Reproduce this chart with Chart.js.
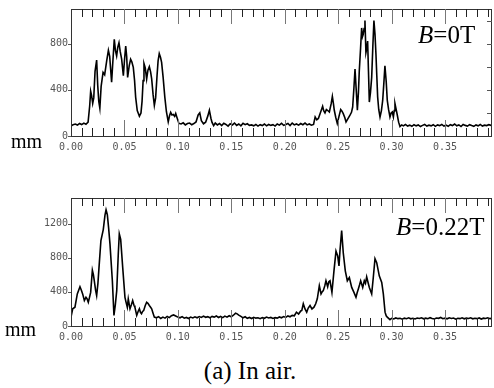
<!DOCTYPE html>
<html>
<head>
<meta charset="utf-8">
<script src="https://cdn.jsdelivr.net/npm/chart.js@4"></script>
<style>
  html, body { margin: 0; padding: 0; background: #fff; }
  #wrap { position: relative; width: 494px; height: 388px; overflow: hidden; }
  canvas { position: absolute; left: 0; }
  .lbl { position: absolute; font-family: "Liberation Serif", "Times New Roman", serif; line-height: 1; color: #000; white-space: nowrap; }
  .unit { font-size: 20px; }
  .field { font-size: 25px; }
  .field i { font-style: italic; }
  .caption { font-size: 25px; width: 494px; text-align: center; left: 3px; }
</style>
</head>
<body>
<div id="wrap">
  <canvas id="chartTop" width="494" height="160" style="top:0"></canvas>
  <canvas id="chartBottom" width="494" height="161" style="top:189px"></canvas>
  <div class="lbl unit" style="left:11px; top:131px">mm</div>
  <div class="lbl unit" style="left:5px; top:319px">mm</div>
  <div class="lbl field" style="left:418px; top:22px"><i>B</i>=0T</div>
  <div class="lbl field" style="left:396px; top:214px"><i>B</i>=0.22T</div>
  <div class="lbl caption" style="top:358px">(a) In air.</div>
</div>

<script>
// ───────── profile data (position in m, counts) ─────────

// B = 0T
const topPos = [
  0.000, 0.002, 0.004, 0.006, 0.008, 0.010, 0.012, 0.014, 0.016, 0.0175,
  0.0184, 0.0193, 0.0203, 0.0213, 0.0225, 0.0240, 0.0250, 0.0260, 0.0270, 0.0282,
  0.0300, 0.0315, 0.0334, 0.0350, 0.0362, 0.0380, 0.0392, 0.0405, 0.0416, 0.0427,
  0.0438, 0.0449, 0.0460, 0.0474, 0.0490, 0.0500, 0.0512, 0.0521, 0.0530, 0.0545,
  0.0558, 0.0570, 0.0583, 0.0595, 0.0605, 0.0620, 0.0640, 0.0655, 0.0665, 0.0675,
  0.0683, 0.0695, 0.0708, 0.0720, 0.0733, 0.0745, 0.0755, 0.0768, 0.0780, 0.0792,
  0.0805, 0.0815, 0.0826, 0.0838, 0.0848, 0.0862, 0.0878, 0.0893, 0.0910, 0.0922,
  0.0933, 0.0945, 0.0957, 0.0970, 0.0980, 0.0990, 0.1010, 0.1030, 0.1050, 0.1070,
  0.1090, 0.1110, 0.1130, 0.1150, 0.1170, 0.1190, 0.1205, 0.1220, 0.1240, 0.1260,
  0.1280, 0.1295, 0.1310, 0.1320, 0.1335, 0.1350, 0.1370, 0.1390, 0.1410, 0.1430,
  0.1450, 0.1470, 0.1490, 0.1510, 0.1530, 0.1550, 0.1570, 0.1590, 0.1610, 0.1630,
  0.1650, 0.1670, 0.1690, 0.1710, 0.1730, 0.1750, 0.1770, 0.1790, 0.1810, 0.1830,
  0.1850, 0.1870, 0.1890, 0.1910, 0.1930, 0.1950, 0.1970, 0.1990, 0.2010, 0.2030,
  0.2050, 0.2070, 0.2090, 0.2110, 0.2130, 0.2150, 0.2170, 0.2190, 0.2210, 0.2230,
  0.2250, 0.2270, 0.2285, 0.2300, 0.2315, 0.2330, 0.2355, 0.2365, 0.2377, 0.2390,
  0.2400, 0.2418, 0.2435, 0.2446, 0.2456, 0.2464, 0.2478, 0.2492, 0.2508, 0.2524,
  0.2536, 0.2548, 0.2562, 0.2574, 0.2592, 0.2611, 0.2625, 0.2636, 0.2648, 0.2658,
  0.2668, 0.2680, 0.2690, 0.2698, 0.2710, 0.2720, 0.2728, 0.2735, 0.2743, 0.2751,
  0.2760, 0.2768, 0.2776, 0.2784, 0.2792, 0.2803, 0.2814, 0.2825, 0.2835, 0.2845,
  0.2854, 0.2862, 0.2870, 0.2880, 0.2892, 0.2905, 0.2917, 0.2928, 0.2938, 0.2950,
  0.2960, 0.2972, 0.2985, 0.2996, 0.3007, 0.3017, 0.3025, 0.3032, 0.3043, 0.3054,
  0.3066, 0.3079, 0.3095, 0.3110, 0.3130, 0.3150, 0.3170, 0.3190, 0.3210, 0.3230,
  0.3250, 0.3270, 0.3290, 0.3310, 0.3330, 0.3350, 0.3370, 0.3390, 0.3410, 0.3430,
  0.3450, 0.3470, 0.3490, 0.3510, 0.3530, 0.3550, 0.3570, 0.3590, 0.3610, 0.3630,
  0.3650, 0.3670, 0.3690, 0.3710, 0.3730, 0.3750, 0.3770, 0.3790, 0.3810, 0.3830,
  0.3850, 0.3870, 0.3890, 0.3910, 0.3930, 0.3940
];
const topCounts = [
  86, 98, 104, 95, 108, 99, 112, 102, 120, 262,
  388, 350, 282, 330, 560, 657, 440, 300, 240, 430,
  551, 530, 651, 742, 690, 465, 650, 837, 740, 694,
  770, 808, 735, 665, 522, 650, 779, 690, 508, 610,
  665, 640, 594, 480, 337, 220, 171, 200, 300, 480,
  628, 590, 494, 570, 600, 555, 494, 360, 265, 330,
  520, 650, 714, 680, 637, 510, 337, 210, 122, 175,
  205, 182, 186, 170, 195, 165, 109, 104, 114, 96,
  108, 112, 98, 108, 122, 182, 200, 132, 106, 120,
  172, 223, 152, 118, 90, 112, 96, 108, 90, 110,
  100, 86, 106, 96, 112, 92, 104, 88, 110, 98,
  106, 92, 96, 88, 100, 86, 98, 90, 104, 88,
  100, 92, 98, 86, 104, 94, 110, 92, 100, 108,
  90, 112, 96, 104, 94, 108, 98, 112, 96, 104,
  94, 100, 165, 140, 152, 190, 257, 220, 200, 230,
  223, 208, 280, 343, 280, 223, 160, 109, 170, 229,
  215, 194, 160, 122, 150, 180, 205, 251, 420, 580,
  420, 223, 380, 565, 760, 936, 860, 880, 930, 1000,
  722, 760, 822, 560, 294, 380, 508, 780, 1000, 880,
  708, 520, 337, 230, 165, 220, 308, 460, 608, 470,
  308, 230, 165, 200, 208, 165, 220, 280, 230, 180,
  120, 82, 96, 88, 100, 86, 94, 84, 98, 88,
  96, 82, 92, 100, 86, 94, 88, 98, 84, 96,
  90, 100, 86, 94, 84, 98, 90, 104, 88, 96,
  82, 100, 92, 86, 98, 90, 84, 96, 88, 100,
  86, 94, 90, 98, 92, 96
];

// B = 0.22T
const bottomPos = [
  0.000, 0.0016, 0.0037, 0.0059, 0.0084, 0.0097, 0.0109, 0.0125, 0.0140, 0.0150,
  0.0162, 0.0172, 0.0184, 0.0200, 0.0210, 0.0218, 0.0230, 0.0240, 0.0252, 0.0262,
  0.0280, 0.0302, 0.0318, 0.0328, 0.0340, 0.0352, 0.0365, 0.0387, 0.0402, 0.0415,
  0.0428, 0.0443, 0.0452, 0.0465, 0.0484, 0.0505, 0.0515, 0.0527, 0.0536, 0.0552,
  0.0565, 0.0577, 0.0590, 0.0598, 0.0615, 0.0628, 0.0640, 0.0650, 0.0660, 0.0670,
  0.0680, 0.0695, 0.0708, 0.0720, 0.0733, 0.0745, 0.0755, 0.0768, 0.0780, 0.0800,
  0.0820, 0.0840, 0.0860, 0.0880, 0.0900, 0.0920, 0.0940, 0.0960, 0.0980, 0.1000,
  0.1020, 0.1040, 0.1060, 0.1080, 0.1100, 0.1120, 0.1140, 0.1160, 0.1180, 0.1200,
  0.1220, 0.1240, 0.1260, 0.1280, 0.1300, 0.1320, 0.1340, 0.1360, 0.1380, 0.1400,
  0.1420, 0.1440, 0.1460, 0.1480, 0.1500, 0.1520, 0.1540, 0.1555, 0.1570, 0.1590,
  0.1610, 0.1630, 0.1650, 0.1670, 0.1690, 0.1710, 0.1730, 0.1750, 0.1770, 0.1790,
  0.1810, 0.1830, 0.1850, 0.1870, 0.1890, 0.1910, 0.1930, 0.1950, 0.1970, 0.1990,
  0.2010, 0.2030, 0.2050, 0.2070, 0.2090, 0.2110, 0.2130, 0.2150, 0.2160, 0.2174,
  0.2190, 0.2206, 0.2220, 0.2237, 0.2255, 0.2274, 0.2290, 0.2305, 0.2324, 0.2340,
  0.2350, 0.2361, 0.2375, 0.2386, 0.2402, 0.2413, 0.2424, 0.2442, 0.2461, 0.2480,
  0.2496, 0.2508, 0.2517, 0.2533, 0.2548, 0.2567, 0.2586, 0.2605, 0.2627, 0.2648,
  0.2667, 0.2678, 0.2689, 0.2700, 0.2711, 0.2730, 0.2745, 0.2756, 0.2767, 0.2780,
  0.2792, 0.2814, 0.2829, 0.2845, 0.2861, 0.2885, 0.2908, 0.2923, 0.2939, 0.2950,
  0.2960, 0.2985, 0.3000, 0.3020, 0.3040, 0.3060, 0.3080, 0.3100, 0.3120, 0.3140,
  0.3160, 0.3180, 0.3200, 0.3220, 0.3240, 0.3260, 0.3280, 0.3300, 0.3320, 0.3340,
  0.3360, 0.3380, 0.3400, 0.3420, 0.3440, 0.3460, 0.3480, 0.3500, 0.3520, 0.3540,
  0.3560, 0.3580, 0.3600, 0.3620, 0.3640, 0.3660, 0.3680, 0.3700, 0.3720, 0.3740,
  0.3760, 0.3780, 0.3800, 0.3820, 0.3840, 0.3860, 0.3880, 0.3900, 0.3920, 0.3940
];
const bottomCounts = [
  104, 202, 220, 376, 460, 420, 376, 298, 336, 320,
  278, 330, 394, 654, 600, 530, 420, 356, 500, 684,
  1002, 1130, 1300, 1362, 1304, 1150, 956, 530, 124, 250,
  414, 858, 1079, 1014, 684, 336, 280, 220, 318, 202,
  250, 298, 240, 220, 124, 170, 202, 160, 144, 170,
  180, 240, 278, 265, 240, 220, 202, 150, 104, 96,
  110, 88, 104, 92, 112, 98, 120, 130, 118, 104,
  96, 110, 92, 100, 88, 104, 94, 108, 96, 110,
  100, 116, 102, 110, 96, 112, 104, 118, 100, 112,
  98, 116, 104, 120, 108, 126, 150, 142, 128, 112,
  96, 108, 90, 100, 88, 102, 92, 96, 86, 98,
  90, 104, 94, 100, 88, 98, 92, 106, 96, 110,
  100, 118, 108, 124, 120, 162, 140, 176, 182, 260,
  200, 162, 210, 240, 200, 220, 260, 318, 472, 376,
  400, 414, 470, 530, 460, 520, 530, 394, 646, 878,
  820, 704, 878, 1118, 858, 646, 530, 568, 452, 394,
  336, 390, 434, 480, 530, 452, 530, 500, 576, 510,
  452, 376, 568, 789, 742, 588, 510, 376, 162, 120,
  104, 74, 90, 82, 94, 86, 90, 80, 92, 86,
  96, 84, 90, 82, 94, 88, 96, 84, 92, 86,
  98, 88, 82, 94, 90, 100, 86, 92, 84, 96,
  88, 94, 80, 90, 86, 96, 84, 92, 88, 96,
  84, 90, 86, 94, 82, 92, 88, 96, 86, 90
];

// ─ axis ticks
const xTickVals = [0.00, 0.05, 0.10, 0.15, 0.20, 0.25, 0.30, 0.35];
const xMinorVals = [
  0.01, 0.02, 0.03, 0.04, 0.06, 0.07, 0.08, 0.09, 0.11, 0.12,
  0.13, 0.14, 0.16, 0.17, 0.18, 0.19, 0.21, 0.22, 0.23, 0.24,
  0.26, 0.27, 0.28, 0.29, 0.31, 0.32, 0.33, 0.34, 0.36, 0.37,
  0.38, 0.39
];
const topYTicks = [0, 400, 800];
const topRightTicks = [200, 400, 600, 800, 1000];
const bottomYTicks = [0, 400, 800, 1200];
const bottomRightTicks = [];

const X_MAX = 0.394;
const tickFont = { family: '"DejaVu Sans Mono", monospace', size: 10 };

// ─ frame and inward tick marks
const framePlugin = {
    id: 'frame',
    afterDraw(chart, args, opts) {
        const { ctx, chartArea: a, scales } = chart;
        const xs = scales.x, ys = scales.y;
        ctx.save();
        ctx.lineWidth = 1;
        ctx.strokeStyle = '#333';
        ctx.strokeRect(Math.round(a.left) + 0.5, Math.round(a.top) + 0.5,
            Math.round(a.right - a.left) - 1, Math.round(a.bottom - a.top));

        const vline = (px, y0, y1) => {
            const x = Math.round(px) + 0.5;
            ctx.beginPath(); ctx.moveTo(x, y0); ctx.lineTo(x, y1); ctx.stroke();
        };
        const hline = (py, x0, x1) => {
            const y = Math.round(py) + 0.5;
            ctx.beginPath(); ctx.moveTo(x0, y); ctx.lineTo(x1, y); ctx.stroke();
        };

        ctx.strokeStyle = '#222';
        xMinorVals.forEach(v => {
            const px = xs.getPixelForValue(v);
            vline(px, a.top, a.top + 8);
            vline(px, a.bottom, a.bottom - 8);
        });
        ctx.strokeStyle = '#777';
        xTickVals.forEach(v => {
            if (v === 0) return;
            const px = xs.getPixelForValue(v);
            vline(px, a.top, a.top + 15);
            vline(px, a.bottom, a.bottom - 16);
        });

        ctx.strokeStyle = '#555';
        opts.leftTicks.forEach(v => hline(ys.getPixelForValue(v), a.left - 3, a.left));
        opts.rightTicks.forEach(v => hline(ys.getPixelForValue(v), a.right - 5, a.right));
        ctx.restore();
    }
};

function makeProfile(canvasId, pos, counts, yMax, yTicks, rightTicks) {
    const points = pos.map((x, i) => ({ x, y: counts[i] }));
    return new Chart(document.getElementById(canvasId), {
        type: 'line',
        data: {
            datasets: [{
                data: points,
                borderColor: '#000',
                borderWidth: 1.6,
                pointRadius: 0,
                tension: 0,
                fill: false
            }]
        },
        options: {
            responsive: false,
            animation: false,
            devicePixelRatio: 1,
            layout: { padding: { top: 7, right: 2, left: 0, bottom: 0 } },
            plugins: {
                legend: { display: false },
                tooltip: { enabled: false },
                frame: { leftTicks: yTicks, rightTicks }
            },
            scales: {
                x: {
                    type: 'linear',
                    min: 0,
                    max: X_MAX,
                    grid: { display: false, drawTicks: false },
                    border: { display: false },
                    afterBuildTicks: s => { s.ticks = xTickVals.map(value => ({ value })); },
                    afterFit: s => { s.height = 24; },
                    ticks: {
                        autoSkip: false,
                        maxRotation: 0,
                        padding: 5,
                        color: '#555',
                        font: tickFont,
                        callback: v => v.toFixed(2)
                    }
                },
                y: {
                    type: 'linear',
                    min: 0,
                    max: yMax,
                    grid: { display: false, drawTicks: false },
                    border: { display: false },
                    afterBuildTicks: s => { s.ticks = yTicks.map(value => ({ value })); },
                    afterFit: s => { s.width = 71; },
                    ticks: {
                        padding: 3,
                        color: '#555',
                        font: tickFont,
                        callback: v => String(v)
                    }
                }
            }
        },
        plugins: [framePlugin]
    });
}

makeProfile('chartTop', topPos, topCounts, 1100, topYTicks, topRightTicks);
makeProfile('chartBottom', bottomPos, bottomCounts, 1500, bottomYTicks, bottomRightTicks);
</script>
</body>
</html>
